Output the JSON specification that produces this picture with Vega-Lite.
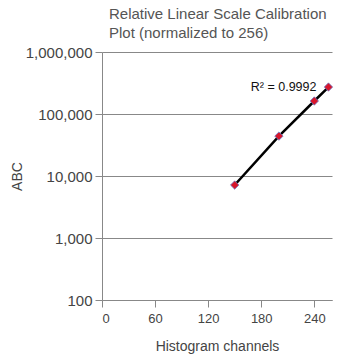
{
  "$schema": "https://vega.github.io/schema/vega-lite/v6.json",
  "width": 230,
  "height": 248,
  "autosize": {"type": "none"},
  "padding": {"left": 102, "top": 52, "right": 23, "bottom": 62},
  "background": "white",
  "title": {
    "text": ["Relative Linear Scale Calibration", "Plot (normalized to 256)"],
    "anchor": "start",
    "frame": "group",
    "dx": 7,
    "offset": 4,
    "font": "Liberation Sans",
    "fontSize": 15,
    "fontWeight": "normal",
    "color": "#555555",
    "lineHeight": 19
  },
  "config": {
    "view": {"stroke": null},
    "axis": {
      "labelFont": "Liberation Sans",
      "titleFont": "Liberation Sans",
      "labelColor": "#444444",
      "titleColor": "#444444",
      "titleFontWeight": "normal",
      "domainColor": "#888888",
      "tickColor": "#888888",
      "gridColor": "#888888",
      "gridOpacity": 1,
      "tickSize": 7
    }
  },
  "data": {
    "values": [
      {"channel": 150, "abc": 7150},
      {"channel": 200, "abc": 44000},
      {"channel": 240, "abc": 162000},
      {"channel": 256, "abc": 272000}
    ]
  },
  "encoding": {
    "x": {
      "field": "channel",
      "type": "quantitative",
      "scale": {"domain": [0, 260], "nice": false, "zero": false},
      "axis": {
        "values": [0, 60, 120, 180, 240],
        "grid": false,
        "title": "Histogram channels",
        "titleFontSize": 14,
        "titlePadding": 14,
        "labelFontSize": 13,
        "labelPadding": 5
      }
    },
    "y": {
      "field": "abc",
      "type": "quantitative",
      "scale": {"type": "log", "domain": [100, 1000000], "nice": false},
      "axis": {
        "values": [100, 1000, 10000, 100000, 1000000],
        "format": ",",
        "grid": true,
        "title": "ABC",
        "titleFontSize": 14,
        "titlePadding": 1,
        "labelFontSize": 15,
        "labelPadding": 3
      }
    }
  },
  "layer": [
    {
      "mark": {"type": "line", "color": "black", "strokeWidth": 2.5}
    },
    {
      "mark": {"type": "point", "shape": "diamond", "filled": true, "fill": "#d8162b", "stroke": "#6a7bc8", "strokeWidth": 0.8, "size": 70, "opacity": 1}
    },
    {
      "transform": [{"filter": "datum.channel == 256"}],
      "mark": {"type": "text", "text": "R² = 0.9992", "align": "right", "baseline": "middle", "dx": -12, "font": "Liberation Sans", "fontSize": 12.5, "color": "#111111"}
    }
  ]
}
